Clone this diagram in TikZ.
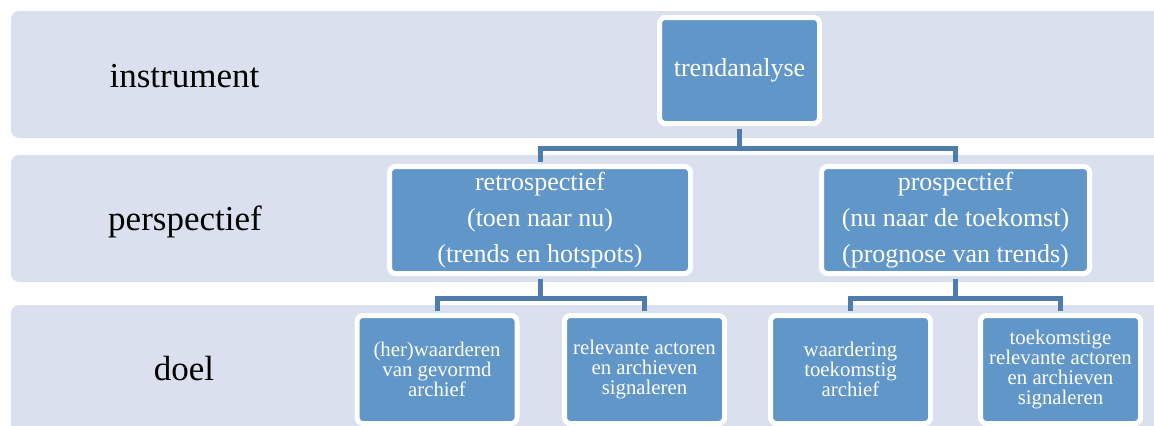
\documentclass[tikz,border=0pt]{standalone}
\usepackage{fontspec}
\setmainfont{Liberation Serif}
\usepackage{tikz}
\usetikzlibrary{positioning, calc}
\definecolor{bandblue}{HTML}{DAE0ED}
\definecolor{boxblue}{HTML}{6096C8}
\definecolor{lineblue}{HTML}{4E7CAB}
\tikzstyle{band} = [fill=bandblue, rounded corners=4pt]
\tikzstyle{lab} = [anchor=base, text=black, font=\fontsize{17.5}{21}\selectfont]
\tikzstyle{box} = [rectangle, rounded corners=3pt, draw=white, line width=2.5pt, fill=boxblue, text=white, align=center, inner sep=0pt]
\tikzstyle{big} = [box, minimum height=53.5pt, font=\fontsize{13}{18}\selectfont]
\tikzstyle{small} = [box, minimum width=80pt, minimum height=54pt, font=\fontsize{10.4}{10}\selectfont]
\tikzstyle{link} = [draw=lineblue, line width=2.5pt, shorten <=1.25pt, shorten >=1.25pt]

\begin{document}
\begin{tikzpicture}[x=0.5pt, y=-0.5pt]
\clip (0,0) rectangle (1154,425);
\fill[white] (0,0) rectangle (1154,425);
\fill [band] (11,11) rectangle (1175,138);
\fill [band] (11,155) rectangle (1175,282);
\fill [band] (11,305) rectangle (1175,450);
\node (lab1) [lab] at (184.5,87) {instrument};
\node (lab2) [lab] at (185,230) {perspectief};
\node (lab3) [lab] at (184,380) {doel};
\node (trend) [big, minimum width=80pt, minimum height=53pt] at (739.5,70.5) {trendanalyse};
\node (retro) [big, minimum width=150.5pt] at (540,220) {retrospectief\\(toen naar nu)\\(trends en hotspots)};
\node (prosp) [big, minimum width=134pt] at (955.5,220) {prospectief\\(nu naar de toekomst)\\(prognose van trends)};
\node (doel1) [small] at (437,369.5) {(her)waarderen\\van gevormd\\archief};
\node (doel2) [small] at (644.5,369.5) {relevante actoren\\en archieven\\signaleren};
\node (doel3) [small] at (850.5,369.5) {waardering\\toekomstig\\archief};
\node (doel4) [small] at (1060.5,369.5) {toekomstige\\relevante actoren\\en archieven\\signaleren};
\draw [link] (trend.south) -- ++(0,-11.25pt) -| (retro.north);
\draw [link] (trend.south) -- ++(0,-11.25pt) -| (prosp.north);
\draw [link] (retro.south) -- ++(0,-11pt) -| (doel1.north);
\draw [link] (retro.south) -- ++(0,-11pt) -| (doel2.north);
\draw [link] (prosp.south) -- ++(0,-11pt) -| (doel3.north);
\draw [link] (prosp.south) -- ++(0,-11pt) -| (doel4.north);
\end{tikzpicture}
\end{document}
